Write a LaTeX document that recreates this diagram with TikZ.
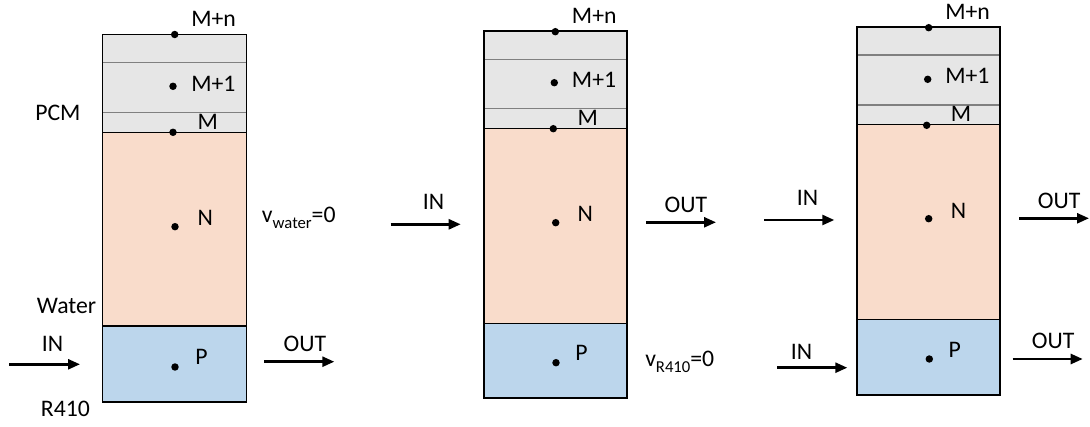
\documentclass[tikz,border=0pt]{standalone}
\usepackage{fontspec}
\setmainfont{Carlito}
\usetikzlibrary{arrows.meta}
\definecolor{pcmfill}{HTML}{E6E6E6}
\definecolor{waterfill}{HTML}{F9DCCB}
\definecolor{rfill}{HTML}{BCD6EC}
\definecolor{sepgray}{HTML}{808080}
\newcommand{\subtxt}[1]{\raisebox{-4.2pt}{\fontsize{12.5}{13}\selectfont #1}}
\begin{document}
\begin{tikzpicture}[x=0.75pt,y=-0.75pt,
  lbl/.style={anchor=base west,inner sep=0pt,font=\fontsize{17.8}{20}\selectfont},
  dot/.style={circle,fill=black,inner sep=0pt,minimum size=5.6pt},
  flow/.style={line width=1.9pt,-{Triangle[length=9pt,width=7.5pt]}},
  outline/.style={draw=black,line width=1.3pt},
  layer/.style={draw=black,line width=1.1pt},
  sep/.style={draw=sepgray,line width=0.9pt}]
\useasboundingbox (0,0) rectangle (1090,427);

% ---------- column 1 ----------
\fill[pcmfill] (102.5,34.5) rectangle (246.5,132.3);
\fill[waterfill] (102.5,132.3) rectangle (246.5,326);
\fill[rfill] (102.5,326) rectangle (246.5,401.7);
\draw[sep] (102.5,62.7) -- (246.5,62.7);
\draw[sep] (102.5,112.7) -- (246.5,112.7);
\draw[layer] (102.5,132.3) -- (246.5,132.3);
\draw[layer] (102.5,326) -- (246.5,326);
\draw[outline] (102.5,34.5) rectangle (246.5,401.7);
\node[dot] (c1mn) at (174.7,34.5) {};
\node[dot] (c1m1) at (173,86.3) {};
\node[dot] (c1m) at (173,132.3) {};
\node[dot] (c1n) at (175,226.7) {};
\node[dot] (c1p) at (175,367) {};
\node[lbl] (t1mn) at (191,26.7) {M+n};
\node[lbl] (t1m1) at (191,91.7) {M+1};
\node[lbl] (t1m) at (197.3,129.3) {M};
\node[lbl] (t1n) at (197.3,226) {N};
\node[lbl] (t1p) at (195,365) {P};
\node[lbl] (t1pcm) at (35,120.7) {PCM};
\node[lbl] (t1water) at (36.7,313.3) {Water};
\node[lbl] (t1r) at (40.7,416.7) {R410};
\node[lbl] (t1in) at (41.7,351.7) {IN};
\node[lbl] (t1out) at (283.3,351.7) {OUT};
\node[lbl] (t1v) at (261.7,222.5) {v\subtxt{water}=0};
\coordinate (a1s) at (9.3,364.3);
\coordinate (a1e) at (80,364.3);
\coordinate (b1s) at (264.3,361.7);
\coordinate (b1e) at (334.3,361.7);
\draw[flow] (a1s) -- (a1e);
\draw[flow] (b1s) -- (b1e);

% ---------- column 2 ----------
\fill[pcmfill] (483.7,30.7) rectangle (627.3,128.3);
\fill[waterfill] (483.7,128.3) rectangle (627.3,323.3);
\fill[rfill] (483.7,323.3) rectangle (627.3,397.7);
\draw[sep] (483.7,59.3) -- (627.3,59.3);
\draw[sep] (483.7,108.7) -- (627.3,108.7);
\draw[layer] (483.7,128.3) -- (627.3,128.3);
\draw[layer] (483.7,323.3) -- (627.3,323.3);
\draw[outline] (483.7,30.7) rectangle (627.3,397.7);
\node[dot] (c2mn) at (555.3,31.7) {};
\node[dot] (c2m1) at (554.3,82.7) {};
\node[dot] (c2m) at (553.3,128.7) {};
\node[dot] (c2n) at (555.7,222.7) {};
\node[dot] (c2p) at (556,362.7) {};
\node[lbl] (t2mn) at (571.7,24) {M+n};
\node[lbl] (t2m1) at (571.7,87.3) {M+1};
\node[lbl] (t2m) at (577.3,126) {M};
\node[lbl] (t2n) at (577.3,221.7) {N};
\node[lbl] (t2p) at (575,361) {P};
\node[lbl] (t2in) at (422.7,210) {IN};
\node[lbl] (t2out) at (664.3,212.3) {OUT};
\node[lbl] (t2v) at (645,366.7) {v\subtxt{R410}=0};
\coordinate (a2s) at (390.7,224.3);
\coordinate (a2e) at (460.7,224.3);
\coordinate (b2s) at (646,222.3);
\coordinate (b2e) at (716,222.3);
\draw[flow] (a2s) -- (a2e);
\draw[flow] (b2s) -- (b2e);

% ---------- column 3 ----------
\fill[pcmfill] (857,26.7) rectangle (1000.3,124.7);
\fill[waterfill] (857,124.7) rectangle (1000.3,319.3);
\fill[rfill] (857,319.3) rectangle (1000.3,395);
\draw[sep] (857,55) -- (1000.3,55);
\draw[sep] (857,105) -- (1000.3,105);
\draw[layer] (857,124.7) -- (1000.3,124.7);
\draw[layer] (857,319.3) -- (1000.3,319.3);
\draw[outline] (857,26.7) rectangle (1000.3,395);
\node[dot] (c3mn) at (928.7,27.7) {};
\node[dot] (c3m1) at (927.7,79.3) {};
\node[dot] (c3m) at (926.7,125.3) {};
\node[dot] (c3n) at (928.7,218.7) {};
\node[dot] (c3p) at (929.3,359) {};
\node[lbl] (t3mn) at (945,20) {M+n};
\node[lbl] (t3m1) at (945,83.3) {M+1};
\node[lbl] (t3m) at (950.7,122) {M};
\node[lbl] (t3n) at (950.7,218.3) {N};
\node[lbl] (t3p) at (948.3,357.7) {P};
\node[lbl] (t3inu) at (796.7,206) {IN};
\node[lbl] (t3outu) at (1037.7,208.3) {OUT};
\node[lbl] (t3inl) at (790.7,360) {IN};
\node[lbl] (t3outl) at (1031.7,348.3) {OUT};
\coordinate (a3s) at (764,220);
\coordinate (a3e) at (834.3,220);
\coordinate (b3s) at (1019,218.3);
\coordinate (b3e) at (1089,218.3);
\coordinate (c3s) at (777.3,367.7);
\coordinate (c3e) at (847.3,367.7);
\coordinate (d3s) at (1012.7,359);
\coordinate (d3e) at (1082.7,359);
\draw[flow] (a3s) -- (a3e);
\draw[flow] (b3s) -- (b3e);
\draw[flow] (c3s) -- (c3e);
\draw[flow] (d3s) -- (d3e);
\end{tikzpicture}
\end{document}
